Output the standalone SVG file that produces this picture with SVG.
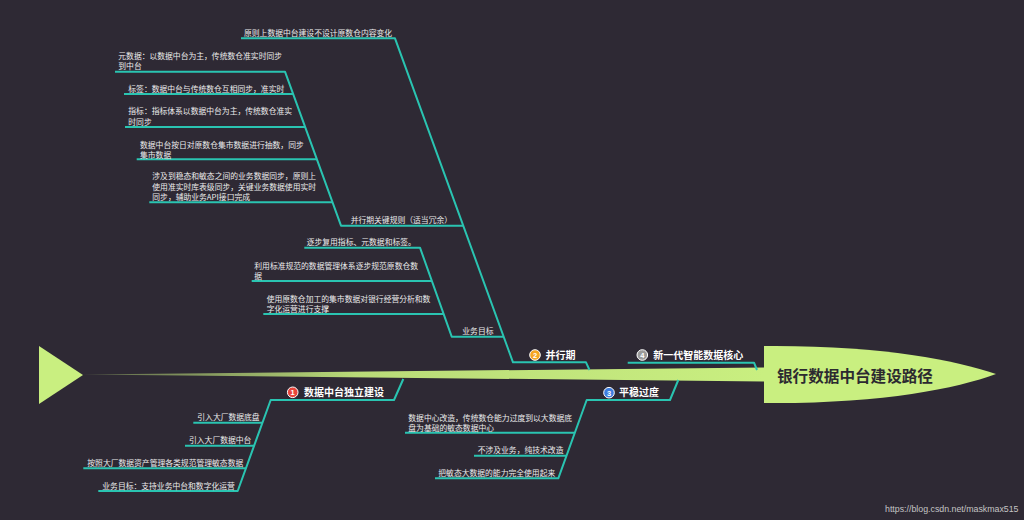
<svg xmlns="http://www.w3.org/2000/svg" width="1024" height="520" viewBox="0 0 1024 520">
<defs>
<linearGradient id="spineGrad" x1="83" y1="0" x2="765" y2="0" gradientUnits="userSpaceOnUse">
<stop offset="0" stop-color="#c9ef80" stop-opacity="0.3"/>
<stop offset="0.4" stop-color="#c9ef80" stop-opacity="0.9"/>
<stop offset="1" stop-color="#c9ef80"/>
</linearGradient>
<style>
.ln{fill:none;stroke:#2ac4b1;stroke-width:2;stroke-linejoin:round}
.lf{font-family:"Noto Sans CJK SC","Noto Sans",sans-serif;font-size:7.8px;fill:#ececec}
.mt{font-family:"Noto Sans CJK SC","Noto Sans",sans-serif;font-size:10px;font-weight:bold;fill:#ffffff}
.bn{font-family:"Liberation Sans",sans-serif;font-size:7.5px;font-weight:bold;fill:#ffffff;text-anchor:middle}
.bc{stroke:#ffffff;stroke-width:1}
</style>
</defs>
<rect x="0" y="0" width="1024" height="520" fill="#2e2934"/>

<g id="spine">
<polygon points="39,346 83,375 39,404" fill="#c9ef80"/>
<polygon points="83,374.5 765,367.5 765,381.5" fill="url(#spineGrad)"/>
</g>

<g id="connectors">
<polyline class="ln" points="241,38.3 395,38.3 513,362.3 586,362.3 589.5,370"/>
<polyline class="ln" points="115,71.7 285,71.7 341,225.7 463,225.7"/>
<line class="ln" x1="124" y1="94" x2="293" y2="94"/>
<line class="ln" x1="125" y1="127" x2="305" y2="127"/>
<line class="ln" x1="136.7" y1="159.3" x2="317" y2="159.3"/>
<line class="ln" x1="149.3" y1="202.3" x2="332.5" y2="202.3"/>
<polyline class="ln" points="304.3,247.7 420,247.7 451.7,336.7 503.7,336.7"/>
<line class="ln" x1="251.7" y1="281" x2="431.9" y2="281"/>
<line class="ln" x1="263.3" y1="314" x2="443.6" y2="314"/>
<polyline class="ln" points="627.7,362.7 754,362.7 757,370"/>
<polyline class="ln" points="678.3,380 670,400 586.7,400 558.3,478.3 435,478.3"/>
<line class="ln" x1="405" y1="432.7" x2="574.8" y2="432.7"/>
<line class="ln" x1="474" y1="455.7" x2="566.5" y2="455.7"/>
<polyline class="ln" points="403.3,379 394,400 270.7,400 237.7,491 98.3,491"/>
<line class="ln" x1="193.3" y1="422.7" x2="262.5" y2="422.7"/>
<line class="ln" x1="185" y1="445.7" x2="254.1" y2="445.7"/>
<line class="ln" x1="83.3" y1="468.3" x2="245.9" y2="468.3"/>
</g>

<g id="root">
<path d="M764,346 C880,345 955,360 996,374 C955,389 880,404 764,403 Z" fill="#c9ef80"/>
<text x="777" y="381.5" font-family="Noto Sans CJK SC,Noto Sans,sans-serif" font-size="15.6" font-weight="bold" fill="#2c2a30">银行数据中台建设路径</text>
</g>

<g id="topic2">
<circle class="bc" cx="535" cy="355" r="5.3" fill="#f5a623"/>
<text class="bn" x="535" y="357.8">2</text>
<text class="mt" x="545.5" y="358.5">并行期</text>
</g>
<g id="topic4">
<circle class="bc" cx="642.3" cy="355" r="5.3" fill="#9a9a9a"/>
<text class="bn" x="642.3" y="357.8">4</text>
<text class="mt" x="653.3" y="358.5">新一代智能数据核心</text>
</g>
<g id="topic3">
<circle class="bc" cx="609" cy="392.7" r="5.3" fill="#3d7de0"/>
<text class="bn" x="609" y="395.5">3</text>
<text class="mt" x="619" y="396">平稳过度</text>
</g>
<g id="topic1">
<circle class="bc" cx="292.7" cy="392.3" r="5.3" fill="#e8453c"/>
<text class="bn" x="292.7" y="395.1">1</text>
<text class="mt" x="304" y="396">数据中台独立建设</text>
</g>

<g id="n-top">
<text class="lf" x="244" y="36">原则上数据中台建设不设计原数仓内容变化</text>
</g>
<g id="n-rules">
<text class="lf" x="350.7" y="223">并行期关键规则（适当冗余）</text>
</g>
<g id="n-meta">
<text class="lf" x="118.3" y="58.5">元数据：以数据中台为主，传统数仓准实时同步</text>
<text class="lf" x="118.3" y="69">到中台</text>
</g>
<g id="n-tag">
<text class="lf" x="128.3" y="92">标签：数据中台与传统数仓互相同步，准实时</text>
</g>
<g id="n-index">
<text class="lf" x="128.3" y="114">指标：指标体系以数据中台为主，传统数仓准实</text>
<text class="lf" x="128.3" y="124.5">时同步</text>
</g>
<g id="n-daily">
<text class="lf" x="140" y="147.5">数据中台按日对原数仓集市数据进行抽数，同步</text>
<text class="lf" x="140" y="157.5">集市数据</text>
</g>
<g id="n-sync">
<text class="lf" x="152.3" y="179">涉及到稳态和敏态之间的业务数据同步，原则上</text>
<text class="lf" x="152.3" y="189.5">使用准实时库表级同步，关键业务数据使用实时</text>
<text class="lf" x="152.3" y="200">同步，辅助业务API接口完成</text>
</g>
<g id="n-goal">
<text class="lf" x="462.3" y="334">业务目标</text>
</g>
<g id="n-reuse">
<text class="lf" x="306.7" y="245">逐步复用指标、元数据和标签。</text>
</g>
<g id="n-std">
<text class="lf" x="254.3" y="268.5">利用标准规范的数据管理体系逐步规范原数仓数</text>
<text class="lf" x="254.3" y="278.5">据</text>
</g>
<g id="n-mart">
<text class="lf" x="266.7" y="301.5">使用原数仓加工的集市数据对银行经营分析和数</text>
<text class="lf" x="266.7" y="311.5">字化运营进行支撑</text>
</g>
<g id="n-dc">
<text class="lf" x="408.3" y="420.5">数据中心改造，传统数仓能力过度到以大数据底</text>
<text class="lf" x="408.3" y="430.5">盘为基础的敏态数据中心</text>
</g>
<g id="n-tech">
<text class="lf" x="477.7" y="453">不涉及业务，纯技术改造</text>
</g>
<g id="n-agile">
<text class="lf" x="438.3" y="476">把敏态大数据的能力完全使用起来</text>
</g>
<g id="n-base">
<text class="lf" x="197.3" y="420">引入大厂数据底盘</text>
</g>
<g id="n-mid">
<text class="lf" x="189" y="443">引入大厂数据中台</text>
</g>
<g id="n-asset">
<text class="lf" x="87.3" y="465.8">按照大厂数据资产管理各类规范管理敏态数据</text>
</g>
<g id="n-biz">
<text class="lf" x="102.3" y="488.5">业务目标：支持业务中台和数字化运营</text>
</g>

<text x="885" y="511.5" font-family="Liberation Sans,sans-serif" font-size="8.8" fill="#c4c4c4">https://blog.csdn.net/maskmax515</text>
</svg>
